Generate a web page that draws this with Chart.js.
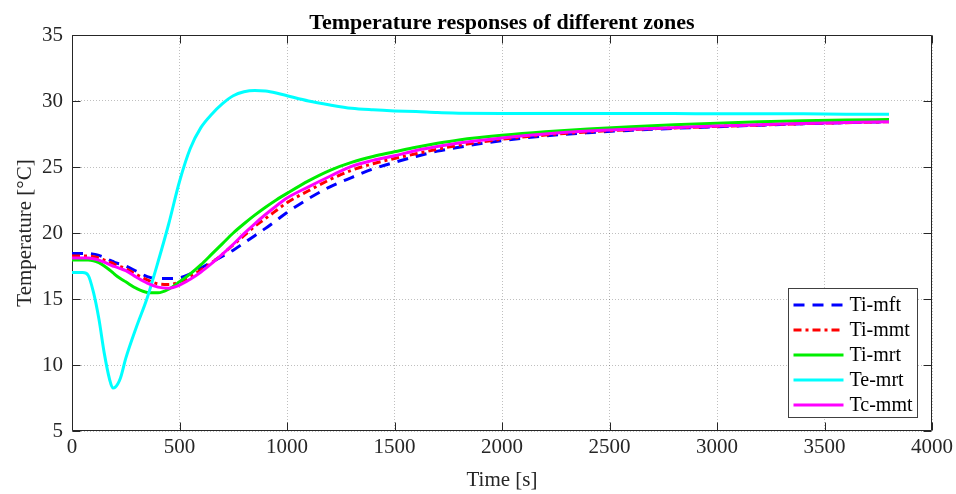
<!DOCTYPE html>
<html><head><meta charset="utf-8">
<script src="https://cdn.jsdelivr.net/npm/chart.js@4.4.1/dist/chart.umd.min.js"></script>
<style>html,body{margin:0;padding:0;background:#fff;}canvas{display:block;}</style>
</head><body>
<canvas id="c" width="956" height="494"></canvas>
<script>
// ---- data ----
const timeS = [0,50,75,100,125,150,175,190,200,225,
  250,300,350,400,450,500,550,600,650,700,
  750,800,850,900,950,1000,1100,1200,1300,1400,
  1500,1600,1700,1800,2000,2200,2400,2600,2800,3000,
  3200,3400,3600,3800];
const tiMft = [18.45,18.45,18.45,18.4,18.3,18.15,17.95,17.85,17.75,17.65,
  17.5,17.1,16.7,16.55,16.55,16.6,16.9,17.35,17.8,18.25,
  18.7,19.25,19.8,20.35,20.95,21.55,22.6,23.5,24.2,24.85,
  25.35,25.8,26.2,26.5,27.0,27.35,27.6,27.78,27.93,28.05,
  28.17,28.27,28.36,28.43];
const tiMmt = [18.25,18.25,18.25,18.2,18.1,17.95,17.8,17.7,17.6,17.45,
  17.3,16.85,16.45,16.15,16.1,16.3,16.7,17.2,17.75,18.4,
  19.1,19.8,20.5,21.1,21.7,22.3,23.2,24.05,24.75,25.25,
  25.65,26.0,26.35,26.65,27.1,27.42,27.66,27.83,27.96,28.08,
  28.18,28.28,28.36,28.43];
const tiMrt = [17.95,17.95,17.95,17.9,17.75,17.5,17.2,17.0,16.85,16.55,
  16.3,15.8,15.5,15.47,15.75,16.3,16.9,17.6,18.4,19.2,
  20.0,20.7,21.35,21.95,22.5,23.0,23.95,24.75,25.35,25.8,
  26.15,26.5,26.8,27.05,27.4,27.67,27.88,28.05,28.2,28.32,
  28.42,28.5,28.56,28.6];
const teMrt = [17.0,17.0,16.8,15.5,13.5,10.9,8.9,8.25,8.3,9.0,
  10.5,12.9,15.1,17.8,20.7,23.9,26.4,28.0,29.0,29.8,
  30.4,30.7,30.8,30.75,30.6,30.4,30.0,29.7,29.45,29.33,
  29.25,29.2,29.12,29.08,29.05,29.05,29.05,29.05,29.05,29.03,
  29.03,29.03,29.0,29.0];
const tcMmt = [18.1,18.1,18.1,18.05,17.95,17.8,17.6,17.5,17.45,17.3,
  17.15,16.65,16.2,15.9,15.82,16.05,16.5,17.05,17.7,18.4,
  19.15,19.95,20.7,21.4,22.05,22.65,23.5,24.3,25.05,25.5,
  25.85,26.25,26.55,26.82,27.2,27.5,27.72,27.86,27.98,28.1,
  28.2,28.3,28.37,28.43];
const seriesNames = ['Ti-mft','Ti-mmt','Ti-mrt','Te-mrt','Tc-mmt'];
const xTickValues = [0,500,1000,1500,2000,2500,3000,3500,4000];
const yTickValues = [5,10,15,20,25,30,35];
const titleText = 'Temperature responses of different zones';
const xLabel = 'Time [s]';
const yLabel = 'Temperature [\u00B0C]';

// ---- styles ----
const FONT = "'Liberation Serif', 'Times New Roman', serif";
const AX = '#262626';
const styles = [
  {color:'#0000ff', dash:[11,8]},
  {color:'#ff0000', dash:[8,4,3,4]},
  {color:'#00ee00', dash:[]},
  {color:'#00ffff', dash:[]},
  {color:'#ff00ff', dash:[]}
];
const seriesValues = [tiMft, tiMmt, tiMrt, teMrt, tcMmt];
const toPoints = arr => timeS.map((t,i)=>({x:t, y:arr[i]}));

const datasets = seriesNames.map((n,i)=>({
  label:n, data:toPoints(seriesValues[i]),
  borderColor:styles[i].color, backgroundColor:styles[i].color,
  borderDash:styles[i].dash, borderWidth:3, pointRadius:0, fill:false,
  cubicInterpolationMode:'monotone', borderCapStyle:'butt', borderJoinStyle:'round',
  order: seriesNames.length - i
}));

const matlabAxes = {
  id:'matlabAxes',
  beforeDatasetsDraw(chart){
    const {ctx, chartArea:a, scales:{x, y}} = chart;
    ctx.save();
    ctx.strokeStyle = AX; ctx.lineWidth = 1;
    ctx.beginPath();
    const L = Math.round(a.left)+0.5, R = Math.round(a.right)-0.5, T = Math.round(a.top)+0.5, B = Math.round(a.bottom)-0.5;
    ctx.rect(L, T, R-L, B-T);
    const tl = 8;
    xTickValues.forEach(v=>{
      const px = Math.round(x.getPixelForValue(v))+0.5;
      ctx.moveTo(px, B); ctx.lineTo(px, B-tl);
      ctx.moveTo(px, T); ctx.lineTo(px, T+tl);
    });
    yTickValues.forEach(v=>{
      const py = Math.round(y.getPixelForValue(v))+0.5;
      ctx.moveTo(L, py); ctx.lineTo(L+tl, py);
      ctx.moveTo(R, py); ctx.lineTo(R-tl, py);
    });
    ctx.stroke();
    ctx.restore();
  },
  afterDatasetsDraw(chart){
    const {ctx, chartArea:a} = chart;
    const w = 129, h = 129;
    const bx = Math.round(a.right - 15 - w)+0.5, by = Math.round(a.bottom - 14 - h)+0.5;
    ctx.save();
    ctx.fillStyle = '#fff';
    ctx.fillRect(bx, by, w, h);
    ctx.strokeStyle = '#404040'; ctx.lineWidth = 1;
    ctx.strokeRect(bx, by, w, h);
    ctx.font = '20px ' + FONT;
    ctx.textBaseline = 'middle';
    ctx.fillStyle = '#000';
    chart.data.datasets.forEach((d,i)=>{
      const cy = by + 16.5 + i*25;
      ctx.beginPath();
      ctx.strokeStyle = d.borderColor; ctx.lineWidth = 3;
      ctx.setLineDash(d.borderDash || []);
      ctx.moveTo(bx+5, cy); ctx.lineTo(bx+55, cy);
      ctx.stroke();
      ctx.setLineDash([]);
      ctx.fillText(d.label, bx+61, cy+1);
    });
    ctx.restore();
    // title centred over the plot area
    ctx.save();
    ctx.font = 'bold 22px ' + FONT;
    ctx.fillStyle = '#000';
    ctx.textAlign = 'center';
    ctx.textBaseline = 'alphabetic';
    ctx.fillText(titleText, (a.left + a.right)/2, 28.5);
    ctx.restore();
  }
};

new Chart(document.getElementById('c'), {
  type:'line',
  data:{datasets},
  plugins:[matlabAxes],
  options:{
    responsive:false, animation:false, devicePixelRatio:1,
    layout:{padding:{left:0, right:24, top:35, bottom:0}},
    plugins:{ legend:{display:false}, tooltip:{enabled:false}, title:{display:false} },
    scales:{
      x:{type:'linear', min:0, max:4000,
        afterBuildTicks:s=>{ s.ticks = xTickValues.map(v=>({value:v})); },
        afterFit:s=>{ s.height = 63; s.paddingLeft = 0; s.paddingRight = 0; },
        ticks:{font:{family:FONT, size:21}, color:AX, padding:4, maxRotation:0, autoSkip:false,
          callback:v=>String(v)},
        grid:{color:'rgba(0,0,0,0.25)', lineWidth:1, drawTicks:false, borderDash:[1,2]},
        border:{display:false, dash:[1,2]},
        title:{display:true, text:xLabel, color:AX, font:{family:FONT, size:21}, padding:{top:0, bottom:1}}
      },
      y:{type:'linear', min:5, max:35,
        afterBuildTicks:s=>{ s.ticks = yTickValues.map(v=>({value:v})); },
        afterFit:s=>{ s.width = 72; s.paddingTop = 0; s.paddingBottom = 0; },
        ticks:{font:{family:FONT, size:21}, color:AX, padding:9, autoSkip:false,
          callback:v=>String(v)},
        grid:{color:'rgba(0,0,0,0.25)', lineWidth:1, drawTicks:false, borderDash:[1,2]},
        border:{display:false, dash:[1,2]},
        title:{display:true, text:yLabel, color:AX, font:{family:FONT, size:21}, padding:{top:13, bottom:0}}
      }
    }
  }
});
</script>
</body></html>
